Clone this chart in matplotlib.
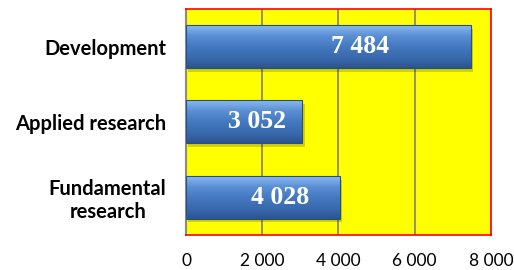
import numpy as np
import matplotlib.pyplot as plt
from matplotlib.colors import LinearSegmentedColormap
from matplotlib.patches import Rectangle

categories = ['Fundamental\nresearch', 'Applied research', 'Development']
values = [4028, 3052, 7484]
value_labels = ['4 028', '3 052', '7 484']
xticks = [0, 2000, 4000, 6000, 8000]
xtick_labels = ['0', '2 000', '4 000', '6 000', '8 000']

BAR_H = 0.57
bar_cmap = LinearSegmentedColormap.from_list(
    'bar', ['#2c5590', '#3a6aae', '#4479c0', '#5a8fd4', '#8bbaf0'])

fig = plt.figure(figsize=(5.14, 2.70), dpi=100)
ax = fig.add_axes([0.362, 0.130, 0.593, 0.837])
ax.set_facecolor('#ffff00')

ax.set_xlim(0, 8000)
ax.set_ylim(-0.5, 2.5)
ax.set_xticks(xticks)
ax.set_xticklabels(xtick_labels, fontsize=12.5, family='Lato')
ax.set_yticks(range(len(categories)))
ax.set_yticklabels(categories, fontsize=14.5, fontweight='bold', family='Lato',
                   multialignment='center', linespacing=1.2)
ax.tick_params(axis='both', length=0)
ax.tick_params(axis='x', pad=13)
ax.tick_params(axis='y', pad=14)
ax.grid(axis='x', color='#808080', lw=1.2)
ax.set_axisbelow(True)

for s in ['top', 'right', 'bottom']:
    ax.spines[s].set_color('#ff0000')
    ax.spines[s].set_linewidth(1.2)
ax.spines['left'].set_color('#8a8a8a')
ax.spines['left'].set_linewidth(1.5)

grad = np.linspace(0, 1, 100).reshape(-1, 1)
for i, (v, lab) in enumerate(zip(values, value_labels)):
    y0 = i - BAR_H / 2
    # drop shadow
    ax.add_patch(Rectangle((60, y0 - 0.05), v, BAR_H, color='#000000',
                           alpha=0.18, lw=0, zorder=2))
    rect = Rectangle((0, y0), v, BAR_H, facecolor='none', lw=0.8,
                     edgecolor='#2a4f85', zorder=4)
    ax.add_patch(rect)
    im = ax.imshow(grad, cmap=bar_cmap, aspect='auto', origin='lower',
                   extent=[0, v, y0, y0 + BAR_H], zorder=3)
    im.set_clip_path(rect)
    ax.text(v * 0.61, i, lab, ha='center', va='center', color='white',
            fontsize=18.5, fontweight='bold', family='Liberation Serif', zorder=5)

ax.set_xlim(0, 8000)
ax.set_ylim(-0.5, 2.5)

fig.savefig('out.png', dpi=100)
